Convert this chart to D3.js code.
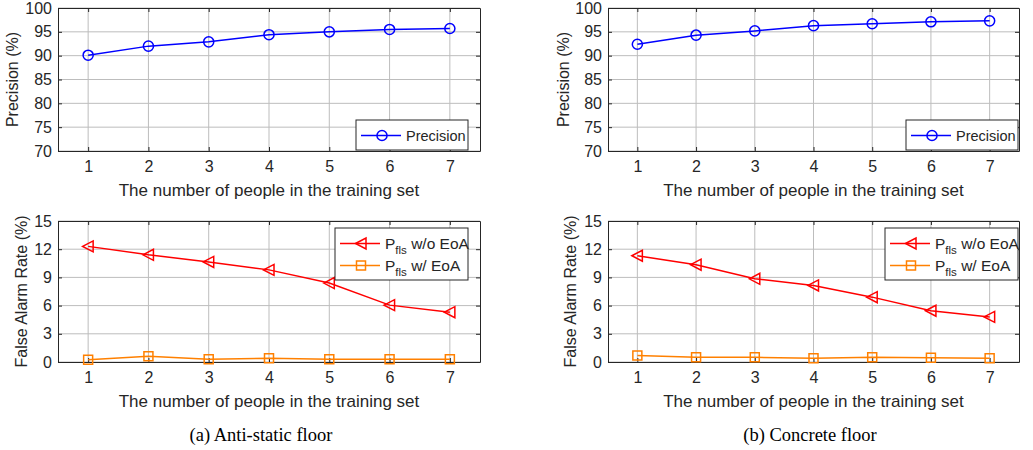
<!DOCTYPE html>
<html>
<head>
<meta charset="utf-8">
<script src="https://cdn.jsdelivr.net/npm/d3@7"></script>
<style>
  body { margin: 0; background: #fff; }
  svg text { font-family: "Liberation Sans", Arial, sans-serif; fill: #262626; }
  .caption { font-family: "Liberation Serif", "DejaVu Serif", serif; fill: #000; }
</style>
</head>
<body>
<svg id="chart" width="1033" height="450"></svg>
<script>
var people = [1, 2, 3, 4, 5, 6, 7];

// precision (%)
var precisionAnti = [90.1, 92.0, 92.9, 94.4, 95.0, 95.5, 95.7];
var precisionConcrete = [92.4, 94.3, 95.2, 96.3, 96.7, 97.1, 97.3];

// false alarm rate (%)
var falseNoEoaAnti = [12.3, 11.4, 10.65, 9.8, 8.4, 6.05, 5.3];
var falseEoaAnti = [0.25, 0.6, 0.3, 0.4, 0.3, 0.3, 0.3];
var falseNoEoaConcrete = [11.3, 10.35, 8.85, 8.15, 6.9, 5.45, 4.8];
var falseEoaConcrete = [0.7, 0.5, 0.5, 0.4, 0.5, 0.45, 0.4];

var precisionTicks = [70, 75, 80, 85, 90, 95, 100];
var falseTicks = [0, 3, 6, 9, 12, 15];

var captions = ["(a) Anti-static floor", "(b) Concrete floor"];

var svg = d3.select("#chart");

function drawPanel(opt) {
  var g = svg.append("g");
  var x = d3.scaleLinear().domain([0.5, 7.5]).range([opt.left, opt.right]);
  var y = d3.scaleLinear().domain(opt.yDomain).range([opt.bottom, opt.top]);

  // grid
  g.selectAll("line.gx").data(people).enter().append("line")
      .attr("x1", function(d) { return x(d); }).attr("x2", function(d) { return x(d); })
      .attr("y1", opt.top).attr("y2", opt.bottom)
      .attr("stroke", "#bdbdbd").attr("stroke-width", 1);
  g.selectAll("line.gy").data(opt.yTicks).enter().append("line")
      .attr("y1", function(d) { return y(d); }).attr("y2", function(d) { return y(d); })
      .attr("x1", opt.left).attr("x2", opt.right)
      .attr("stroke", "#bdbdbd").attr("stroke-width", 1);

  // axes (ticks inside, on all four sides like matlab box)
  var tl = 4;
  g.append("g").attr("transform", "translate(0," + opt.bottom + ")")
      .call(d3.axisBottom(x).tickValues(people).tickFormat(d3.format("d"))
        .tickSizeInner(-tl).tickSizeOuter(0).tickPadding(10))
      .call(styleAxis);
  g.append("g").attr("transform", "translate(0," + opt.top + ")")
      .call(d3.axisTop(x).tickValues(people).tickSizeInner(-tl).tickSizeOuter(0).tickFormat(""))
      .call(styleAxis);
  g.append("g").attr("transform", "translate(" + opt.left + ",0)")
      .call(d3.axisLeft(y).tickValues(opt.yTicks).tickSizeInner(-tl).tickSizeOuter(0).tickPadding(6))
      .call(styleAxis);
  g.append("g").attr("transform", "translate(" + opt.right + ",0)")
      .call(d3.axisRight(y).tickValues(opt.yTicks).tickSizeInner(-tl).tickSizeOuter(0).tickFormat(""))
      .call(styleAxis);

  // axis titles
  g.append("text")
      .attr("x", (opt.left + opt.right) / 2).attr("y", opt.bottom + 45)
      .attr("text-anchor", "middle").attr("font-size", 17)
      .text("The number of people in the training set");
  g.append("text")
      .attr("transform", "translate(" + opt.yLabelX + "," + (opt.top + opt.bottom) / 2 + ") rotate(-90)")
      .attr("text-anchor", "middle").attr("dy", "0.35em").attr("font-size", 16)
      .text(opt.yLabel);

  // series
  opt.series.forEach(function(s) {
    var line = d3.line()
        .x(function(d, i) { return x(people[i]); })
        .y(function(d) { return y(d); });
    g.append("path").datum(s.values)
        .attr("d", line).attr("fill", "none")
        .attr("stroke", s.color).attr("stroke-width", 1.5);
    g.selectAll(null).data(s.values).enter().append("path")
        .attr("transform", function(d, i) { return "translate(" + x(people[i]) + "," + y(d) + ")"; })
        .attr("d", markerPath(s.marker))
        .attr("fill", "none").attr("stroke", s.color).attr("stroke-width", 1.5);
  });

  // legend
  var lg = g.append("g");
  var lw = opt.legend.width, rowH = 22;
  var lh = opt.series.length * rowH + 8;
  var lx = opt.legend.right - lw, ly = opt.legend.top;
  lg.append("rect").attr("x", lx).attr("y", ly).attr("width", lw).attr("height", lh)
      .attr("fill", "#fff").attr("stroke", "#262626").attr("stroke-width", 1);
  opt.series.forEach(function(s, i) {
    var cy = ly + 4 + rowH * i + rowH / 2 + 0.5;
    lg.append("line").attr("x1", lx + 5).attr("x2", lx + 45).attr("y1", cy).attr("y2", cy)
        .attr("stroke", s.color).attr("stroke-width", 1.5);
    lg.append("path").attr("transform", "translate(" + (lx + 26) + "," + cy + ")")
        .attr("d", markerPath(s.marker))
        .attr("fill", "none").attr("stroke", s.color).attr("stroke-width", 1.5);
    var t = lg.append("text").attr("x", lx + 50).attr("y", cy).attr("dy", "0.35em");
    if (s.sub) {
      t.attr("font-size", 15.5);
      t.append("tspan").text("P");
      t.append("tspan").attr("font-size", 11.5).attr("dy", "5").text(s.sub);
      t.append("tspan").attr("dy", "-5").text(" " + s.label);
    } else {
      t.attr("font-size", 14.5).text(s.label);
    }
  });
}

function styleAxis(a) {
  a.select(".domain").attr("stroke", "#262626").attr("stroke-width", 1);
  a.selectAll(".tick line").attr("stroke", "#262626");
  a.selectAll(".tick text").attr("font-size", 16).attr("fill", "#262626")
      .attr("font-family", "Liberation Sans, Arial, sans-serif");
}

function markerPath(kind) {
  if (kind === "circle") return d3.symbol(d3.symbolCircle, 80)();
  if (kind === "square") return "M-4.5,-4.5H4.5V4.5H-4.5Z";
  if (kind === "triangle") return "M-5.5,0L5,-5.5L5,5.5Z";
  return "";
}

var panels = [
  { left: 58, right: 480, top: 8, bottom: 151, yDomain: [70, 100], yTicks: precisionTicks,
    yLabel: "Precision (%)", yLabelX: 12,
    series: [{ values: precisionAnti, color: "#0000ff", marker: "circle", label: "Precision" }],
    legend: { right: 468, top: 120, width: 112 } },
  { left: 608, right: 1019, top: 8, bottom: 151, yDomain: [70, 100], yTicks: precisionTicks,
    yLabel: "Precision (%)", yLabelX: 563,
    series: [{ values: precisionConcrete, color: "#0000ff", marker: "circle", label: "Precision" }],
    legend: { right: 1018, top: 120, width: 112 } },
  { left: 58, right: 480, top: 221, bottom: 362, yDomain: [0, 15], yTicks: falseTicks,
    yLabel: "False Alarm Rate (%)", yLabelX: 21,
    series: [
      { values: falseNoEoaAnti, color: "#ff0000", marker: "triangle", sub: "fls", label: "w/o EoA" },
      { values: falseEoaAnti, color: "#ff8000", marker: "square", sub: "fls", label: "w/ EoA" }],
    legend: { right: 468, top: 228, width: 133 } },
  { left: 608, right: 1019, top: 221, bottom: 362, yDomain: [0, 15], yTicks: falseTicks,
    yLabel: "False Alarm Rate (%)", yLabelX: 570,
    series: [
      { values: falseNoEoaConcrete, color: "#ff0000", marker: "triangle", sub: "fls", label: "w/o EoA" },
      { values: falseEoaConcrete, color: "#ff8000", marker: "square", sub: "fls", label: "w/ EoA" }],
    legend: { right: 1018, top: 228, width: 133 } }
];

panels.forEach(drawPanel);

svg.selectAll("text.caption").data(captions).enter().append("text")
    .attr("class", "caption")
    .attr("x", function(d, i) { return i === 0 ? 261 : 810; })
    .attr("y", 441).attr("text-anchor", "middle").attr("font-size", 18.5)
    .text(function(d) { return d; });
</script>
</body>
</html>
